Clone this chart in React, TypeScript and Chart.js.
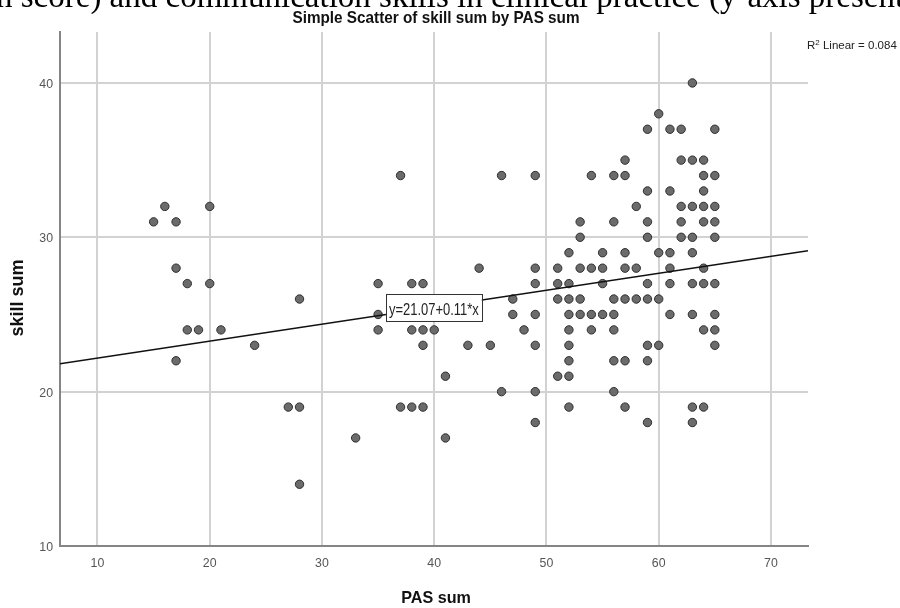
import React, { useEffect, useRef } from "react";
import { Chart, registerables } from "chart.js";

Chart.register(...registerables);

// ---- data ----
const pasSum = [
  15, 16, 17, 17, 17, 18, 18, 19, 20, 20, 21, 24, 27, 28, 28, 28, 33,
  35, 35, 35, 37, 37, 38, 38, 38, 39, 39, 39, 39, 40, 41, 41, 43, 44, 45, 46, 46, 47, 47, 48,
  49, 49, 49, 49, 49, 49, 49,
  51, 51, 51, 51,
  52, 52, 52, 52, 52, 52, 52, 52, 52,
  53, 53, 53, 53, 53,
  54, 54, 54, 54,
  55, 55, 55, 55,
  56, 56, 56, 56, 56, 56, 56,
  57, 57, 57, 57, 57, 57, 57,
  58, 58, 58,
  59, 59, 59, 59, 59, 59, 59, 59, 59,
  60, 60, 60, 60,
  61, 61, 61, 61, 61, 61,
  62, 62, 62, 62, 62,
  63, 63, 63, 63, 63, 63, 63, 63, 63,
  64, 64, 64, 64, 64, 64, 64, 64, 64,
  65, 65, 65, 65, 65, 65, 65, 65, 65,
];
const skillSum = [
  31, 32, 31, 28, 22, 27, 24, 24, 32, 27, 24, 23, 19, 26, 19, 14, 17,
  27, 25, 24, 34, 19, 27, 24, 19, 27, 24, 23, 19, 24, 21, 17, 23, 28, 23, 34, 20, 26, 25, 24,
  34, 28, 27, 25, 23, 20, 18,
  28, 27, 26, 21,
  29, 27, 26, 25, 24, 23, 22, 21, 19,
  31, 30, 28, 26, 25,
  34, 28, 25, 24,
  29, 28, 27, 25,
  34, 31, 26, 25, 24, 22, 20,
  35, 34, 29, 28, 26, 22, 19,
  32, 28, 26,
  37, 33, 31, 30, 27, 26, 23, 22, 18,
  38, 29, 26, 23,
  37, 33, 29, 28, 27, 25,
  37, 35, 32, 31, 30,
  40, 35, 32, 30, 29, 27, 25, 19, 18,
  35, 34, 33, 32, 31, 28, 27, 24, 19,
  37, 34, 32, 31, 30, 27, 25, 24, 23,
];
const xTickValues = [10, 20, 30, 40, 50, 60, 70];
const yTickValues = [10, 20, 30, 40];
const xRange = [6.66, 73.3];
const yRange = [10, 43.3];
const fitIntercept = 21.07;
const fitSlope = 0.11;
const equationText = "y=21.07+0.11*x";
const r2Text = "0.084";
const titleText = "Simple Scatter of skill sum by PAS sum";
const xTitleText = "PAS sum";
const yTitleText = "skill sum";
const captionText =
  "n score) and communication skills in clinical practice (y-axis presentation";

const SANS = '"Liberation Sans", Arial, sans-serif';
const SERIF = '"Liberation Serif", "Times New Roman", serif';

function drawText(
  ctx: CanvasRenderingContext2D,
  text: string,
  x: number,
  y: number,
  font: string,
  color: string,
  align: "left" | "center" | "right",
  sx = 1,
  baseline: CanvasTextBaseline = "alphabetic"
) {
  ctx.save();
  ctx.font = font;
  ctx.fillStyle = color;
  ctx.textBaseline = baseline;
  ctx.textAlign = "left";
  const w = ctx.measureText(text).width * sx;
  let left = x;
  if (align === "center") left = x - w / 2;
  else if (align === "right") left = x - w;
  ctx.translate(left, y);
  ctx.scale(sx, 1);
  ctx.fillText(text, 0, 0);
  ctx.restore();
  return w;
}

const overlayPlugin = {
  id: "overlayText",
  afterDatasetsDraw(chart: any) {
    const ctx: CanvasRenderingContext2D = chart.ctx;
    const xs = chart.scales.x;
    const ys = chart.scales.y;
    const area = chart.chartArea;

    // equation label box
    const bx = xs.getPixelForValue(35.7);
    const by = ys.getPixelForValue(25.44);
    ctx.save();
    ctx.font = `16px ${SANS}`;
    const sx = 0.81;
    const tw = ctx.measureText(equationText).width * sx;
    const bw = tw + 6;
    const bh = 27;
    ctx.fillStyle = "#ffffff";
    ctx.fillRect(bx, by - bh / 2, bw, bh);
    ctx.strokeStyle = "#333333";
    ctx.lineWidth = 1;
    ctx.strokeRect(Math.round(bx) + 0.5, Math.round(by - bh / 2) + 0.5, Math.round(bw), bh);
    ctx.restore();
    drawText(ctx, equationText, bx + 3, by + 7, `16px ${SANS}`, "#222222", "left", sx);

    // tick labels
    for (const v of xTickValues) {
      drawText(ctx, String(v), xs.getPixelForValue(v), area.bottom + 21, `13px ${SANS}`, "#555555", "center", 0.95);
    }
    for (const v of yTickValues) {
      drawText(ctx, String(v), area.left - 7, ys.getPixelForValue(v) + 5, `13px ${SANS}`, "#555555", "right", 0.95);
    }

    // title
    drawText(ctx, titleText, (area.left + area.right) / 2 + 2, 23, `bold 17px ${SANS}`, "#111111", "center", 0.9);

    // x axis title
    drawText(ctx, xTitleText, (area.left + area.right) / 2 + 2, 603, `bold 17px ${SANS}`, "#111111", "center", 0.95);

    // y axis title (rotated)
    ctx.save();
    ctx.translate(18, 298);
    ctx.rotate(-Math.PI / 2);
    drawText(ctx, yTitleText, 0, 0, `bold 18px ${SANS}`, "#111111", "center", 1, "middle");
    ctx.restore();

    // R² label
    let rx = area.right - 1;
    const rBase = 49;
    rx += drawText(ctx, "R", rx, rBase, `11.5px ${SANS}`, "#222222", "left");
    rx += drawText(ctx, "2", rx, rBase - 4.5, `8px ${SANS}`, "#222222", "left");
    drawText(ctx, " Linear = " + r2Text, rx, rBase, `11.5px ${SANS}`, "#222222", "left");

    // cropped caption text from the page above the figure
    drawText(ctx, captionText, -4, 7, `33px ${SERIF}`, "#000000", "left");
  },
};

export default function App() {
  const canvasRef = useRef<HTMLCanvasElement | null>(null);

  useEffect(() => {
    const canvas = canvasRef.current;
    if (!canvas) return;
    const points = pasSum.map((x, i) => ({ x, y: skillSum[i] }));
    const fitLine = [
      { x: xRange[0], y: fitIntercept + fitSlope * xRange[0] },
      { x: xRange[1], y: fitIntercept + fitSlope * xRange[1] },
    ];
    const chart = new Chart(canvas, {
      type: "scatter",
      data: {
        datasets: [
          {
            label: "skill sum",
            data: points,
            pointRadius: 4.2,
            pointBackgroundColor: "#6b6b6b",
            pointBorderColor: "#2e2e2e",
            pointBorderWidth: 1,
            order: 2,
          },
          {
            type: "line",
            label: "fit",
            data: fitLine,
            showLine: true,
            borderColor: "#111111",
            borderWidth: 1.6,
            pointRadius: 0,
            fill: false,
            order: 1,
          } as any,
        ],
      },
      options: {
        responsive: false,
        animation: false,
        devicePixelRatio: 1,
        layout: { padding: { top: 32, right: 92, left: 0, bottom: 0 } },
        plugins: {
          legend: { display: false },
          tooltip: { enabled: false },
          title: { display: false },
        },
        scales: {
          x: {
            type: "linear",
            min: xRange[0],
            max: xRange[1],
            afterBuildTicks: (s: any) => {
              s.ticks = xTickValues.map((v) => ({ value: v }));
            },
            afterFit: (s: any) => {
              s.height = 62;
            },
            ticks: { display: false },
            grid: { color: "#d2d2d2", lineWidth: 2, drawTicks: false },
            border: { display: true, color: "#858585", width: 2 },
          },
          y: {
            type: "linear",
            min: yRange[0],
            max: yRange[1],
            afterBuildTicks: (s: any) => {
              s.ticks = yTickValues.map((v) => ({ value: v }));
            },
            afterFit: (s: any) => {
              s.width = 60;
            },
            ticks: { display: false },
            grid: { color: "#d2d2d2", lineWidth: 2, drawTicks: false },
            border: { display: true, color: "#858585", width: 2 },
          },
        },
      },
      plugins: [overlayPlugin],
    });
    return () => chart.destroy();
  }, []);

  return (
    <div
      style={{
        position: "fixed",
        left: 0,
        top: 0,
        width: 900,
        height: 608,
        background: "#ffffff",
        overflow: "hidden",
      }}
    >
      <canvas ref={canvasRef} width={900} height={608} style={{ display: "block", width: 900, height: 608 }} />
    </div>
  );
}
